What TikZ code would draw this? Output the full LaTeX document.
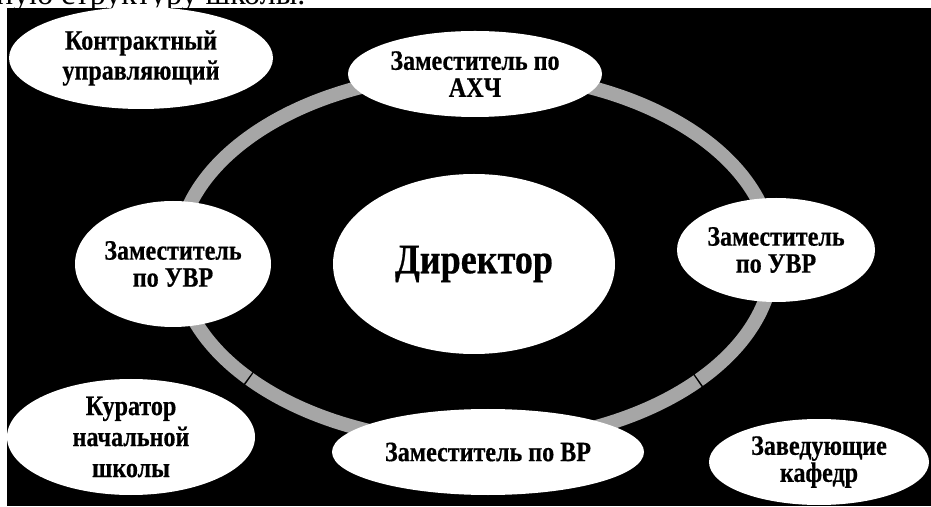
\documentclass[tikz,border=0pt]{standalone}
\usepackage{fontspec}
\setmainfont{Liberation Serif}
\newfontfamily\bubblefont{Liberation Serif}[FakeStretch=0.86, FakeBold=0.5]
\usetikzlibrary{shapes.geometric, arrows.meta}

\begin{document}
\begin{tikzpicture}[x=1pt, y=1pt,
    bubble/.style={ellipse, fill=white, inner sep=0pt, align=center,
      font=\bubblefont\bfseries\fontsize{28}{27}\selectfont},
    ring/.style={draw=black!35, line width=14pt},
    link/.style={draw=black, line width=0.6pt, -{Stealth[length=5pt, width=4pt]}}]
  \useasboundingbox (0,0) rectangle (931,506);
  \node[anchor=base west, inner sep=0pt, font=\fontsize{32}{32}\selectfont] (caption) at (-4,501) {ную структуру школы.};
  \fill[black] (7,0) rectangle (931,498);
  % ring
  \begin{scope}[shift={(475,248)}]
    \draw[ring] (220.8:298pt and 185pt) arc[start angle=220.8, end angle=318.3, x radius=298pt, y radius=185pt];
    \draw[ring] (318.7:298pt and 185pt) arc[start angle=318.7, end angle=580.4, x radius=298pt, y radius=185pt];
  \end{scope}
  % members
  \node[bubble, minimum width=264pt, minimum height=102pt, font=\bubblefont\bfseries\fontsize{28}{30}\selectfont] (contract) at (141,448) {Контрактный\\управляющий};
  \node[bubble, minimum width=254pt, minimum height=86pt] (ahch) at (475,432) {Заместитель по\\АХЧ};
  \node[bubble, minimum width=196pt, minimum height=126pt] (uvrL) at (173,242) {Заместитель\\по УВР};
  \node[bubble, minimum width=282pt, minimum height=180pt, font=\bubblefont\bfseries\fontsize{42}{42}\selectfont] (dir) at (474,242) {Директор};
  \node[bubble, minimum width=198pt, minimum height=104pt] (uvrR) at (776,256) {Заместитель\\по УВР};
  \node[bubble, minimum width=312pt, minimum height=86pt] (vr) at (488,54) {Заместитель по ВР};
  \node[bubble, minimum width=248pt, minimum height=116pt, font=\bubblefont\bfseries\fontsize{28}{31}\selectfont] (curator) at (131,69) {Куратор\\начальной\\школы};
  \node[bubble, minimum width=220pt, minimum height=86pt] (chairs) at (819,44) {Заведующие\\кафедр};
  \draw[link] ([yshift=-9pt]dir.west) -- ([yshift=-9pt]uvrL.east);
\end{tikzpicture}
\end{document}
